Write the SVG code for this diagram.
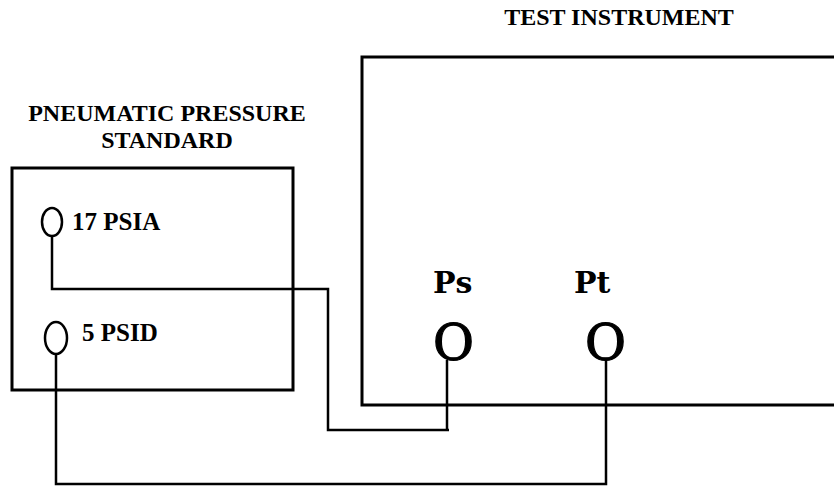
<svg xmlns="http://www.w3.org/2000/svg" width="834" height="487" viewBox="0 0 834 487">
<style>
.box{fill:none;stroke:#000;stroke-width:3}
.wire{fill:none;stroke:#000;stroke-width:2.5}
.port{fill:none;stroke:#000;stroke-width:2.5}
.title{font-family:"Liberation Serif",serif;font-weight:bold;font-size:24px;text-anchor:middle;fill:#000}
.lbl{font-family:"Liberation Serif",serif;font-weight:bold;font-size:25px;fill:#000}
.plbl{font-family:"DejaVu Serif",serif;font-weight:bold;font-size:30px;fill:#000}
.o{font-family:"DejaVu Serif",serif;font-size:50px;fill:#000;stroke:#000;stroke-width:1.2}
</style>
<rect width="834" height="487" fill="#fff"/>
<g id="pressure-standard">
<rect class="box" x="12" y="168" width="281" height="222"/>
<text class="title" x="167" y="121">PNEUMATIC PRESSURE</text>
<text class="title" x="167" y="148">STANDARD</text>
<ellipse class="port" cx="52" cy="222" rx="10" ry="14"/>
<text class="lbl" x="72" y="230">17 PSIA</text>
<ellipse class="port" cx="56" cy="338" rx="11" ry="16"/>
<text class="lbl" x="82" y="341">5 PSID</text>
</g>
<g id="test-instrument">
<path class="box" d="M836,57 H362 V405 H836"/>
<text class="title" x="619" y="25">TEST INSTRUMENT</text>
<text class="plbl" x="433" y="293">Ps</text>
<text class="plbl" x="574" y="293">Pt</text>
<text class="o" x="433" y="360">O</text>
<text class="o" x="585" y="360">O</text>
</g>
<g id="connectors">
<path class="wire" d="M52,236 V289 H328 V430 H449"/>
<path class="wire" d="M447,360 V430"/>
<path class="wire" d="M56,354 V484 H606 V360"/>
</g>
</svg>
